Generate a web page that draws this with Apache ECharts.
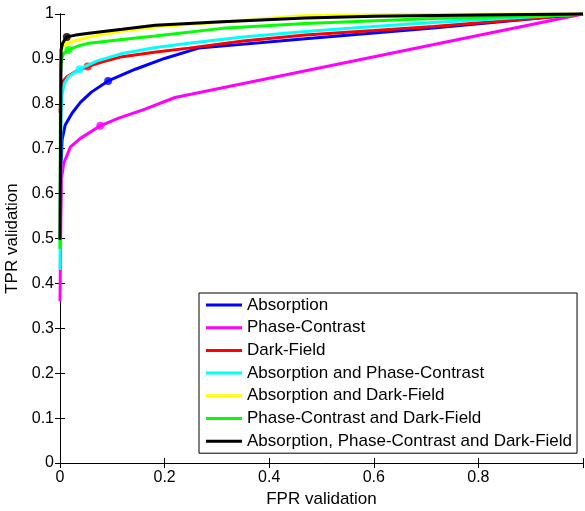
<!DOCTYPE html>
<html>
<head>
<meta charset="utf-8">
<script src="https://cdn.jsdelivr.net/npm/echarts@6/dist/echarts.min.js"></script>
<style>html,body{margin:0;padding:0;background:#fff}#c{width:585px;height:511px}</style>
</head>
<body>
<div id="c"></div>
<script>
var seriesNames = ['Absorption','Phase-Contrast','Dark-Field','Absorption and Phase-Contrast','Absorption and Dark-Field','Phase-Contrast and Dark-Field','Absorption, Phase-Contrast and Dark-Field'];
var seriesColors = ['#0000ff','#ff00ff','#ff0000','#00ffff','#ffff00','#00ff00','#000000'];

var absFPR = [0.001, 0.002, 0.004, 0.01, 0.023, 0.039, 0.06, 0.092, 0.144, 0.2, 0.265, 0.469, 0.714, 1];
var absTPR = [0.553, 0.66, 0.72, 0.753, 0.779, 0.803, 0.826, 0.851, 0.877, 0.901, 0.924, 0.945, 0.969, 1];

var pcFPR = [0, 0.0025, 0.007, 0.02, 0.039, 0.077, 0.112, 0.16, 0.22, 1];
var pcTPR = [0.36, 0.63, 0.667, 0.704, 0.723, 0.751, 0.768, 0.787, 0.814, 1];

var dfFPR = [0, 0.002, 0.005, 0.013, 0.03, 0.053, 0.08, 0.119, 0.18, 0.246, 0.35, 0.469, 0.6, 0.714, 0.905, 1];
var dfTPR = [0.78, 0.83, 0.849, 0.86, 0.872, 0.883, 0.893, 0.905, 0.915, 0.924, 0.94, 0.953, 0.963, 0.972, 0.99, 1];

var apFPR = [0, 0.002, 0.004, 0.008, 0.016, 0.0375, 0.07, 0.119, 0.18, 0.246, 0.35, 0.469, 0.6, 0.714, 0.905, 1];
var apTPR = [0.43, 0.78, 0.82, 0.845, 0.86, 0.877, 0.895, 0.912, 0.925, 0.935, 0.949, 0.961, 0.972, 0.981, 0.994, 1];

var adFPR = [0, 0.002, 0.005, 0.01, 0.03, 0.06, 0.12, 0.2, 0.3, 0.46, 0.64, 1];
var adTPR = [0.88, 0.91, 0.925, 0.933, 0.941, 0.95, 0.962, 0.973, 0.981, 0.996, 0.999, 1];

var pdFPR = [0, 0.001, 0.003, 0.007, 0.016, 0.035, 0.055, 0.119, 0.182, 0.31, 0.469, 0.714, 0.97, 1];
var pdTPR = [0.477, 0.87, 0.9, 0.912, 0.92, 0.929, 0.935, 0.943, 0.951, 0.968, 0.979, 0.99, 0.997, 1];

var allFPR = [0, 0.002, 0.005, 0.013, 0.03, 0.055, 0.119, 0.182, 0.31, 0.469, 0.6, 0.8, 1];
var allTPR = [0.497, 0.92, 0.935, 0.949, 0.953, 0.957, 0.966, 0.975, 0.983, 0.991, 0.995, 0.998, 1];

var markerFPR = [0.092, 0.077, 0.053, 0.0375, 0.012, 0.016, 0.013];
var markerTPR = [0.851, 0.751, 0.883, 0.877, 0.937, 0.92, 0.949];

var xTicks = [0, 0.2, 0.4, 0.6, 0.8];

var curvesFPR = [absFPR, pcFPR, dfFPR, apFPR, adFPR, pdFPR, allFPR];
var curvesTPR = [absTPR, pcTPR, dfTPR, apTPR, adTPR, pdTPR, allTPR];

var FONT = 'Liberation Sans';
function zip(a, b) { return a.map(function (v, i) { return [v, b[i]]; }); }

var series = [];
for (var i = 0; i < seriesNames.length; i++) {
  series.push({
    name: seriesNames[i], type: 'line', data: zip(curvesFPR[i], curvesTPR[i]),
    showSymbol: false, symbol: 'none', clip: false, animation: false,
    lineStyle: { color: seriesColors[i], width: 3 }, itemStyle: { color: seriesColors[i] },
    z: 2 + i * 2
  });
  series.push({
    name: 'marker' + i, type: 'scatter', data: [[markerFPR[i], markerTPR[i]]],
    symbol: 'circle', symbolSize: 8, animation: false, silent: true,
    itemStyle: { color: seriesColors[i] }, z: 3 + i * 2
  });
}

var axisCommon = {
  axisLine: { show: true, lineStyle: { color: '#000', width: 1 } },
  axisTick: { show: true, inside: true, length: 5, lineStyle: { color: '#000' } },
  splitLine: { show: false }
};

var option = {
  backgroundColor: '#fff',
  animation: false,
  grid: { left: 60, right: 2, top: 14, bottom: 48, containLabel: false, outerBoundsMode: 'none' },
  xAxis: [
    Object.assign({
      type: 'value', min: 0, max: 1, interval: 0.2, position: 'bottom',
      name: 'FPR validation', nameLocation: 'middle', nameGap: 25,
      nameTextStyle: { fontFamily: FONT, fontSize: 17, color: '#000' },
      axisLabel: { fontFamily: FONT, fontSize: 16, color: '#000', margin: 7,
        formatter: function (v) { return xTicks.indexOf(Math.round(v * 10) / 10) >= 0 ? String(Math.round(v * 10) / 10) : ''; } }
    }, axisCommon),
    Object.assign({
      type: 'value', min: 0, max: 1, interval: 0.2, position: 'top',
      axisLabel: { show: false }
    }, axisCommon)
  ],
  yAxis: [
    Object.assign({
      type: 'value', min: 0, max: 1, interval: 0.1, position: 'left',
      name: 'TPR validation', nameLocation: 'middle', nameGap: 36,
      nameTextStyle: { fontFamily: FONT, fontSize: 17, color: '#000' },
      axisLabel: { fontFamily: FONT, fontSize: 16, color: '#000', margin: 6,
        formatter: function (v) { return String(Math.round(v * 10) / 10); } }
    }, axisCommon),
    Object.assign({
      type: 'value', min: 0, max: 1, interval: 0.1, position: 'right',
      axisLabel: { show: false }
    }, axisCommon)
  ],
  legend: {
    data: seriesNames, orient: 'vertical', left: 199, top: 293,
    selectedMode: false, backgroundColor: '#fff',
    borderColor: '#000', borderWidth: 1, borderRadius: 0,
    padding: [2, 5, 2, 7], itemWidth: 36, itemHeight: 3, itemGap: 2.7, icon: 'rect',
    textStyle: { fontFamily: FONT, fontSize: 17, color: '#000', lineHeight: 20 }
  },
  series: series
};

var chart = echarts.init(document.getElementById('c'), null, { renderer: 'canvas' });
chart.setOption(option);
</script>
</body>
</html>
